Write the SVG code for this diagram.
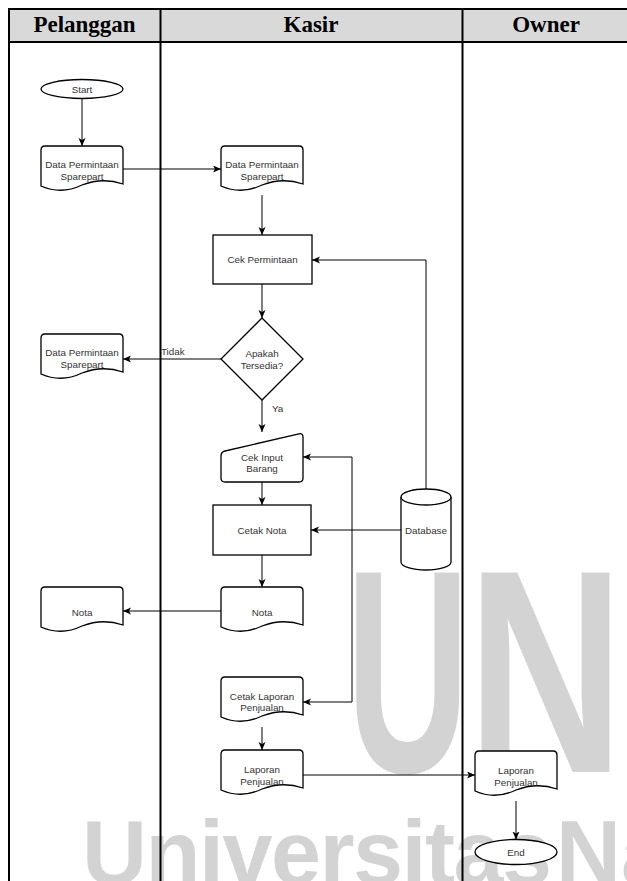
<svg xmlns="http://www.w3.org/2000/svg" xmlns:xlink="http://www.w3.org/1999/xlink" width="627" height="881" viewBox="0 0 627 881">
<style>
.wm{fill:#d3d3d3;font-family:"Liberation Sans",Arial,sans-serif;font-weight:bold}
.grid{stroke:#000;stroke-width:2;fill:none}
.hdr{font-family:"Liberation Serif","Times New Roman",serif;font-weight:bold;font-size:23px;fill:#000;text-anchor:middle}
.shape{fill:#fff;stroke:#000;stroke-width:1.3}
.lbl{font-family:"Liberation Sans",Arial,Helvetica,sans-serif;font-size:9.8px;fill:#333;text-anchor:middle}
.elbl{font-family:"Liberation Sans",Arial,Helvetica,sans-serif;font-size:9.8px;fill:#333}
.conn{fill:none;stroke:#000;stroke-width:1}
</style>
<defs>
<path id="doc" d="M0,4 Q0,0 4,0 H78 Q82,0 82,4 V38 Q61.5,31 41,39 Q20.5,49 0,40 Z"/>
<marker id="arr" markerUnits="userSpaceOnUse" markerWidth="9" markerHeight="8" refX="8" refY="3.5" orient="auto-start-reverse">
<path d="M0,0 L8,3.5 L0,7 L2,3.5 Z" fill="#000"/>
</marker>
</defs>
<rect width="627" height="881" fill="#fff"/>
<g id="watermark">
<text class="wm" transform="translate(346,772) scale(0.59,1)" font-size="290">U</text>
<text class="wm" transform="translate(467,772) scale(0.75,1)" font-size="290">N</text>
<text class="wm" x="82" y="884" font-size="90" textLength="470" lengthAdjust="spacing">Universitas</text>
<text class="wm" x="556" y="884" font-size="90">Nasional</text>
</g>
<g id="table">
<rect x="9" y="9" width="630" height="33" fill="#d9d9d9"/>
<line class="grid" x1="8" y1="9" x2="640" y2="9"/>
<line class="grid" x1="8" y1="42" x2="640" y2="42"/>
<line class="grid" x1="9" y1="8" x2="9" y2="881"/>
<line class="grid" x1="160.5" y1="9" x2="160.5" y2="881"/>
<line class="grid" x1="462.5" y1="9" x2="462.5" y2="881"/>
<text class="hdr" x="84.5" y="32">Pelanggan</text>
<text class="hdr" x="311" y="32">Kasir</text>
<text class="hdr" x="546" y="32">Owner</text>
</g>
<g id="connectors">
<path class="conn" d="M82,98.5 V146" marker-end="url(#arr)"/>
<path class="conn" d="M123,169 H221" marker-end="url(#arr)"/>
<path class="conn" d="M262,195 V235" marker-end="url(#arr)"/>
<path class="conn" d="M262,284 V318" marker-end="url(#arr)"/>
<path class="conn" d="M221,359 H123" marker-end="url(#arr)"/>
<path class="conn" d="M262,400 V432" marker-end="url(#arr)"/>
<path class="conn" d="M262,482 V505" marker-end="url(#arr)"/>
<path class="conn" d="M262,555 V587" marker-end="url(#arr)"/>
<path class="conn" d="M221,611 H123" marker-end="url(#arr)"/>
<path class="conn" d="M426,489 V260 H312" marker-end="url(#arr)"/>
<path class="conn" d="M401,530 H311" marker-end="url(#arr)"/>
<path class="conn" d="M303,457 H352 V702 H303" marker-start="url(#arr)" marker-end="url(#arr)"/>
<path class="conn" d="M262,727 V750" marker-end="url(#arr)"/>
<path class="conn" d="M303,775 H475" marker-end="url(#arr)"/>
<path class="conn" d="M516,801 V839.5" marker-end="url(#arr)"/>
<text class="elbl" x="161" y="355">Tidak</text>
<text class="elbl" x="272" y="412">Ya</text>
</g>
<g id="start">
<ellipse class="shape" cx="82" cy="89" rx="41" ry="9.5"/>
<text class="lbl" x="82" y="92.5">Start</text>
</g>
<g id="p_data_permintaan">
<use href="#doc" class="shape" x="41" y="146"/>
<text class="lbl" x="82" y="168">Data Permintaan</text>
<text class="lbl" x="82" y="179.5">Sparepart</text>
</g>
<g id="k_data_permintaan">
<use href="#doc" class="shape" x="221" y="146"/>
<text class="lbl" x="262" y="168">Data Permintaan</text>
<text class="lbl" x="262" y="179.5">Sparepart</text>
</g>
<g id="cek_permintaan">
<rect class="shape" x="213" y="235" width="99" height="49"/>
<text class="lbl" x="262.5" y="263">Cek Permintaan</text>
</g>
<g id="apakah_tersedia">
<path class="shape" d="M262,318 L303,359 L262,400 L221,359 Z"/>
<text class="lbl" x="262" y="357">Apakah</text>
<text class="lbl" x="262" y="369">Tersedia?</text>
</g>
<g id="p_data_permintaan_2">
<use href="#doc" class="shape" x="41" y="334"/>
<text class="lbl" x="82" y="356">Data Permintaan</text>
<text class="lbl" x="82" y="367.5">Sparepart</text>
</g>
<g id="cek_input_barang">
<path class="shape" d="M221,456 Q221,452 225,451 L299,433.8 Q303,433 303,437 V478 Q303,482 299,482 H225 Q221,482 221,478 Z"/>
<text class="lbl" x="262" y="460.5">Cek Input</text>
<text class="lbl" x="262" y="472">Barang</text>
</g>
<g id="cetak_nota">
<rect class="shape" x="213" y="505" width="98" height="50"/>
<text class="lbl" x="262" y="533.5">Cetak Nota</text>
</g>
<g id="database">
<path class="shape" d="M401,497 A25,8 0 0 1 451,497 V562 A25,8 0 0 1 401,562 Z"/>
<path class="shape" fill="none" d="M401,497 A25,8 0 0 0 451,497"/>
<text class="lbl" x="426" y="533.5">Database</text>
</g>
<g id="k_nota">
<use href="#doc" class="shape" x="221" y="587"/>
<text class="lbl" x="262" y="615.5">Nota</text>
</g>
<g id="p_nota">
<use href="#doc" class="shape" x="41" y="587"/>
<text class="lbl" x="82" y="615.5">Nota</text>
</g>
<g id="cetak_laporan_penjualan">
<use href="#doc" class="shape" x="221" y="677"/>
<text class="lbl" x="262" y="699.5">Cetak Laporan</text>
<text class="lbl" x="262" y="711">Penjualan</text>
</g>
<g id="k_laporan_penjualan">
<use href="#doc" class="shape" x="221" y="750"/>
<text class="lbl" x="262" y="773">Laporan</text>
<text class="lbl" x="262" y="784.5">Penjualan</text>
</g>
<g id="o_laporan_penjualan">
<use href="#doc" class="shape" x="475" y="751"/>
<text class="lbl" x="516" y="774">Laporan</text>
<text class="lbl" x="516" y="785.5">Penjualan</text>
</g>
<g id="end">
<ellipse class="shape" cx="516" cy="852" rx="41" ry="12.5"/>
<text class="lbl" x="516" y="855.5">End</text>
</g>
</svg>
